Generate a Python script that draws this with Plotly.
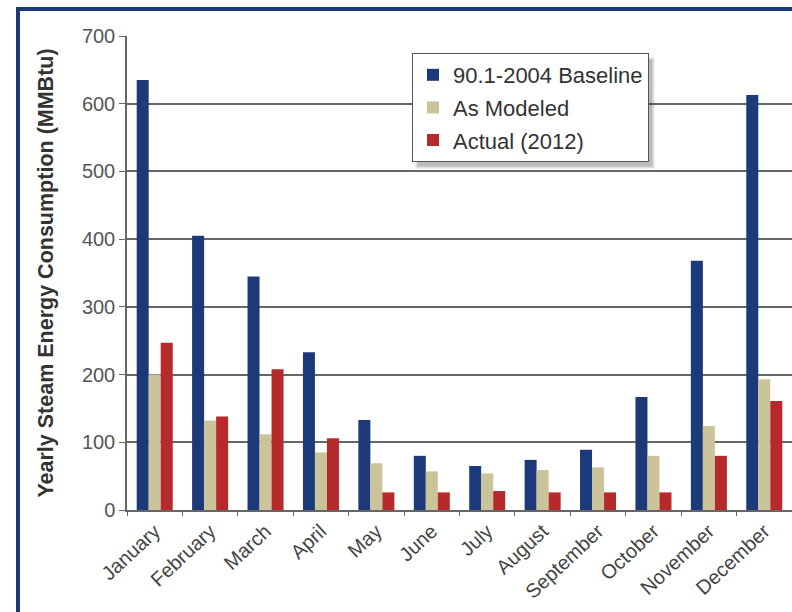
import plotly.graph_objects as go

# Monthly steam energy use (MMBtu)
months = ["January", "February", "March", "April", "May", "June", "July",
          "August", "September", "October", "November", "December"]
baseline = [635, 405, 345, 233, 133, 80, 65, 74, 89, 167, 368, 613]
modeled = [200, 132, 112, 85, 69, 57, 54, 59, 63, 80, 124, 193]
actual = [247, 138, 208, 106, 26, 26, 28, 26, 26, 26, 80, 161]

series_names = ["90.1-2004 Baseline", "As Modeled", "Actual (2012)"]
series_colors = ["#1c3a7a", "#cbc39a", "#b72a2c"]
y_ticks = [0, 100, 200, 300, 400, 500, 600, 700]

W, H = 792, 612
L, R, T, B = 127, 0, 36, 102
pw, ph = W - L - R, H - T - B


def px_x(x):
    return (x - L) / pw


def px_y(y):
    return (H - B - y) / ph


fig = go.Figure()
for i, (name, vals, col) in enumerate(zip(series_names, [baseline, modeled, actual], series_colors)):
    fig.add_trace(go.Bar(x=months, y=vals, name=name, marker_color=col,
                         marker_line_width=0, legendgroup=f"g{i}"))

font_family = "Liberation Sans, Arial, sans-serif"

shapes = []
# soft drop shadow behind the legend box
for k, op in enumerate([0.07, 0.09, 0.11, 0.13]):
    shapes.append(dict(type="rect", xref="paper", yref="paper", layer="above",
                       x0=px_x(415 + k), x1=px_x(655 - k),
                       y0=px_y(169 - k), y1=px_y(57 + k),
                       fillcolor=f"rgba(60,60,60,{op})", line_width=0))
# navy page frame on the left and top
shapes.append(dict(type="line", xref="paper", yref="paper", x0=px_x(18), x1=px_x(18),
                   y0=px_y(H), y1=px_y(8), line=dict(color="#1c3a7a", width=4)))
shapes.append(dict(type="line", xref="paper", yref="paper", x0=px_x(16), x1=px_x(W),
                   y0=px_y(9), y1=px_y(9), line=dict(color="#1c3a7a", width=4)))

fig.update_layout(
    width=W, height=H,
    margin=dict(l=L, r=R, t=T, b=B),
    paper_bgcolor="white", plot_bgcolor="white",
    font=dict(family=font_family, color="#444444"),
    barmode="group", bargap=0.35, bargroupgap=0,
    showlegend=True,
    legend=dict(x=px_x(412), y=px_y(53), xanchor="left", yanchor="top",
                bgcolor="white", bordercolor="#555555", borderwidth=1,
                font=dict(size=22, color="#333333", family=font_family),
                traceorder="grouped", tracegroupgap=1),
    shapes=shapes,
    xaxis=dict(tickangle=-43, tickfont=dict(size=20, color="#444444"),
               showline=True, linecolor="#666666", linewidth=1.5,
               ticks="outside", tickson="boundaries", ticklen=4, tickcolor="#666666",
               showgrid=False, automargin=False),
    yaxis=dict(range=[0, 700], tickvals=y_ticks, tickfont=dict(size=20, color="#555555"),
               showline=True, linecolor="#666666", linewidth=1.5,
               ticks="outside", ticklen=6, tickcolor="#666666",
               gridcolor="#666666", gridwidth=1.5, zeroline=False, automargin=False,
               title=dict(text="<b>Yearly Steam Energy Consumption (MMBtu)</b>",
                          font=dict(size=21.5, color="#333333"), standoff=22)),
)

fig.write_html("out.html")
